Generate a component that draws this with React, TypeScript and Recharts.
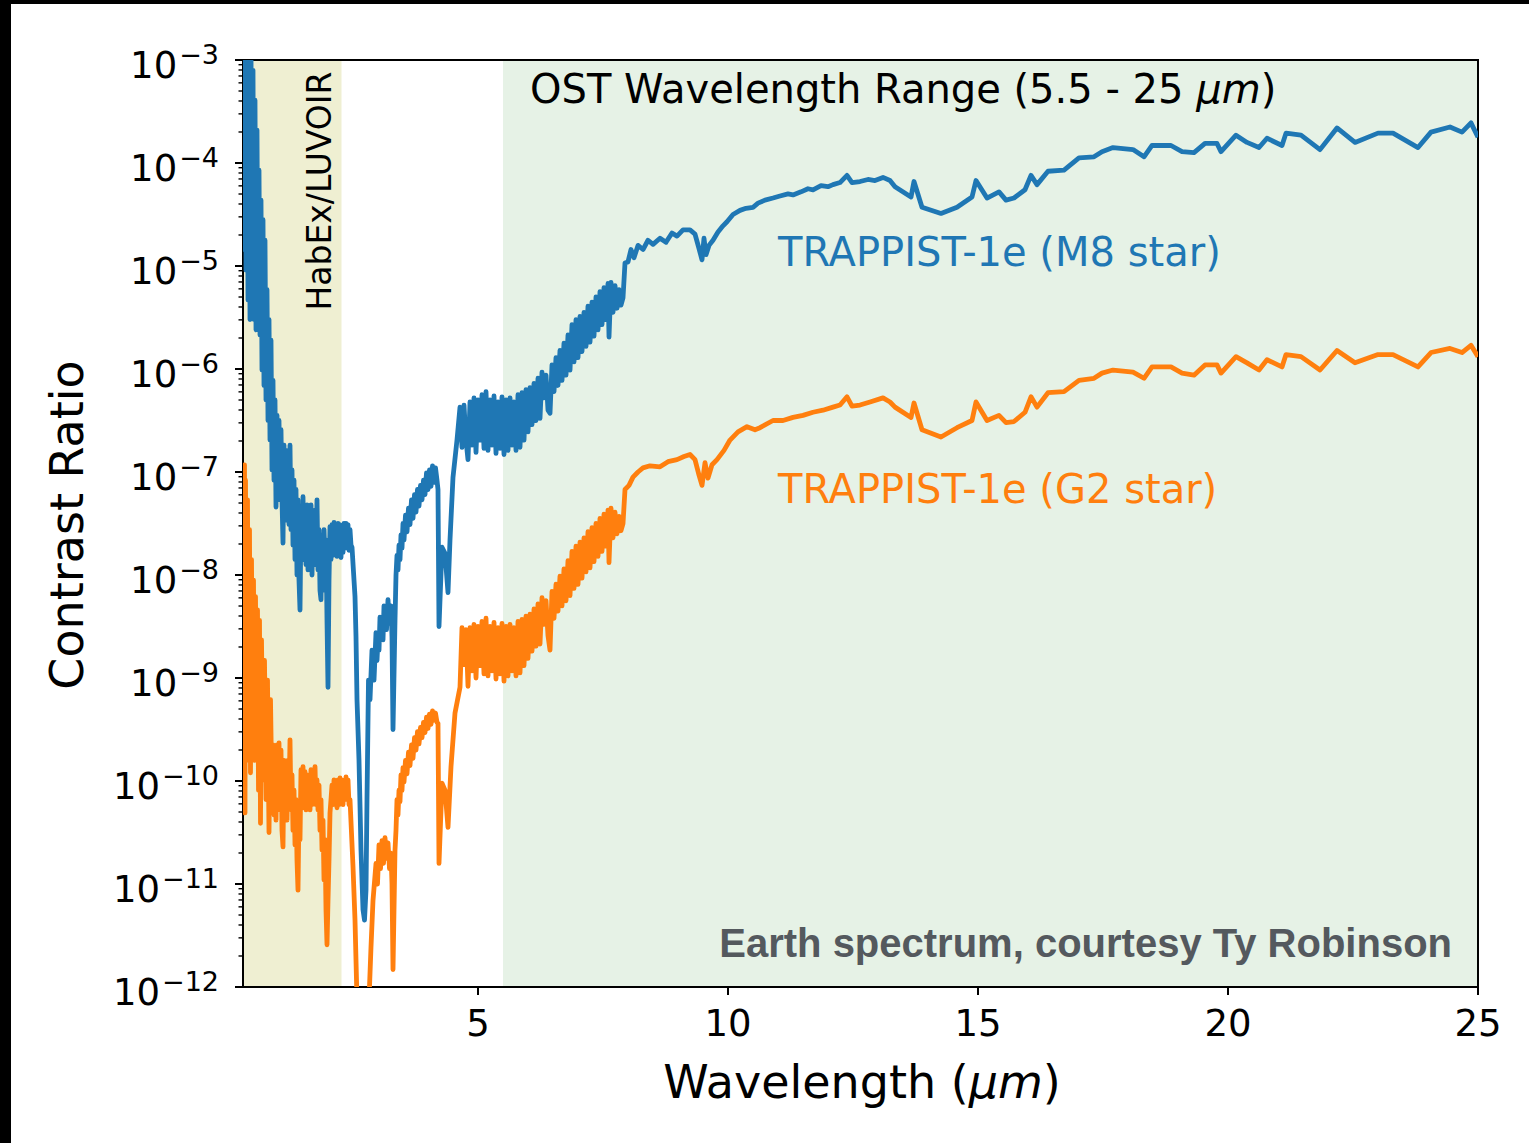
import { LineChart, Line, XAxis, YAxis, ReferenceArea } from 'recharts'

// wavelength in micron, contrast stored as log10
const m8Wavelength = [
  0.30, 0.32, 0.34, 0.36, 0.38, 0.40, 0.42, 0.44, 0.46, 0.48, 0.50, 0.52, 0.54, 0.56, 0.58, 0.60,
  0.62, 0.64, 0.66, 0.68, 0.70, 0.72, 0.74, 0.76, 0.78, 0.80, 0.82, 0.84, 0.86, 0.88,
  0.90, 0.92, 0.94, 0.96, 0.98, 1.00, 1.02, 1.04, 1.06, 1.08, 1.10, 1.12, 1.14, 1.16, 1.18, 1.20,
  1.22, 1.24, 1.26, 1.28, 1.30, 1.32, 1.34, 1.36, 1.38, 1.40, 1.42, 1.44, 1.46, 1.48, 1.50, 1.52,
  1.54, 1.56, 1.58, 1.60, 1.62, 1.64, 1.66, 1.68, 1.70, 1.72, 1.74, 1.76, 1.78, 1.80, 1.82, 1.84,
  1.86, 1.88, 1.90, 1.92, 1.94, 1.96, 1.98, 2.00, 2.02, 2.04, 2.06, 2.08, 2.10, 2.12, 2.14, 2.16,
  2.18, 2.20, 2.22, 2.24, 2.26, 2.28, 2.30, 2.32, 2.34, 2.36, 2.38, 2.40, 2.42, 2.44, 2.46, 2.48,
  2.54, 2.56, 2.58, 2.62, 2.66, 2.70, 2.73, 2.76, 2.78, 2.81, 2.84, 2.88, 2.92,
  2.96, 2.98, 3.00, 3.02, 3.04, 3.06, 3.08, 3.10, 3.12, 3.14, 3.17, 3.20, 3.23, 3.26, 3.28, 3.30,
  3.34, 3.36, 3.38, 3.40, 3.42, 3.44, 3.46, 3.48, 3.50, 3.52, 3.55, 3.58, 3.61, 3.64, 3.67, 3.70,
  3.73, 3.76, 3.79, 3.82, 3.85, 3.88, 3.91, 3.94, 3.97, 4.00, 4.03, 4.06, 4.09, 4.12, 4.15, 4.18,
  4.20, 4.22, 4.28, 4.34, 4.40, 4.44, 4.50, 4.58,
  4.64, 4.68, 4.72, 4.76, 4.80, 4.84, 4.88, 4.92, 4.96, 5.00, 5.04, 5.08, 5.12, 5.16, 5.20, 5.24,
  5.28, 5.32, 5.36, 5.40, 5.44, 5.48, 5.52, 5.56, 5.60, 5.64, 5.68, 5.72, 5.76, 5.80, 5.84, 5.88,
  5.92, 5.96, 6.00, 6.04, 6.08, 6.12, 6.16, 6.20, 6.24, 6.28, 6.32, 6.36, 6.40, 6.44, 6.48, 6.52,
  6.56, 6.60, 6.64, 6.68, 6.72, 6.76, 6.80, 6.84, 6.88, 6.92, 6.96, 7.00, 7.04, 7.08, 7.12, 7.16,
  7.20, 7.24, 7.28, 7.32, 7.36, 7.40, 7.44, 7.48, 7.52, 7.56, 7.60, 7.62, 7.66, 7.70, 7.74, 7.78,
  7.82, 7.86, 7.90, 7.94,
  8.00, 8.06, 8.12, 8.20, 8.30, 8.40, 8.50, 8.64, 8.76,
  8.88, 8.98, 9.10, 9.24, 9.34, 9.42, 9.48, 9.52, 9.56, 9.62, 9.70, 9.80, 9.90, 9.98, 10.10, 10.24,
  10.36, 10.50, 10.60, 10.74, 10.90, 11.04, 11.20, 11.30, 11.46, 11.60, 11.70, 11.86, 12.00, 12.10, 12.24, 12.38,
  12.48, 12.64, 12.80, 12.94, 13.10, 13.24, 13.34, 13.66, 13.72, 13.88, 14.26, 14.58, 14.88, 14.96, 15.18, 15.42,
  15.56, 15.72, 15.94, 16.06, 16.18, 16.40, 16.72, 17.02, 17.32, 17.48, 17.70, 18.10, 18.32, 18.48, 18.86, 19.08,
  19.32, 19.54, 19.78, 19.86, 20.16, 20.38, 20.62, 20.78, 21.08, 21.16, 21.46, 21.84, 22.18, 22.54, 23.00, 23.30,
  23.80, 24.06, 24.44, 24.68, 24.86, 25.00,
]
const m8LogContrast = [
  -2.71, -4.84, -2.81, -5.04, -2.71, -5.33, -2.81, -5.52, -2.90, -5.43, -3.10, -5.52, -3.39, -5.62, -3.68, -5.52,
  -4.07, -5.67, -4.36, -6.01, -4.55, -6.16, -4.75, -6.30, -5.23, -6.50, -5.52, -6.69, -5.72, -6.98,
  -6.11, -7.08, -6.30, -7.34, -6.45, -7.27, -6.50, -7.22, -6.59, -7.27, -7.69, -6.74, -7.37, -6.79, -7.47, -6.93,
  -7.51, -6.74, -7.56, -6.98, -7.71, -7.08, -7.85, -7.17, -8.00, -7.27, -8.05, -8.34, -7.47, -7.85, -7.24, -7.85,
  -7.37, -7.90, -7.32, -7.95, -7.42, -7.85, -7.32, -8.00, -7.47, -7.90, -7.37, -7.85, -7.27, -7.95, -7.56, -8.15,
  -8.24, -7.61, -8.15, -7.56, -7.85, -7.66, -8.44, -9.09, -8.05, -7.53, -7.85, -7.51, -7.81, -7.49, -7.76, -7.51,
  -7.82, -7.50, -7.76, -7.51, -7.83, -7.52, -7.78, -7.50, -7.74, -7.50, -7.71, -7.51, -7.76, -7.56, -7.71, -7.73,
  -8.21, -8.60, -9.21, -9.80, -10.67, -11.25, -11.35, -11.06, -10.18, -9.02, -9.21, -8.73, -9.02,
  -8.56, -8.83, -8.63, -8.73, -8.41, -8.63, -8.49, -8.63, -8.30, -8.34, -8.53, -8.24, -8.47, -8.30, -8.60, -9.50,
  -8.44, -8.00, -7.81, -7.95, -7.71, -7.85, -7.61, -7.74, -7.50, -7.66, -7.42, -7.58, -7.35, -7.51, -7.27, -7.45,
  -7.22, -7.39, -7.17, -7.33, -7.13, -7.27, -7.08, -7.22, -7.01, -7.17, -6.98, -7.14, -6.94, -7.10, -6.96, -7.08,
  -7.17, -8.50, -7.73, -7.79, -8.17, -7.66, -7.05, -6.69,
  -6.37, -6.76, -6.35, -6.69, -6.88, -6.32, -6.74, -6.28, -6.81, -6.30, -6.69, -6.25, -6.77, -6.22, -6.79, -6.30,
  -6.74, -6.26, -6.82, -6.32, -6.77, -6.27, -6.83, -6.30, -6.79, -6.28, -6.74, -6.32, -6.79, -6.25, -6.76, -6.23,
  -6.69, -6.20, -6.61, -6.18, -6.54, -6.14, -6.50, -6.09, -6.48, -6.03, -6.28, -6.06, -6.40, -6.43, -5.96, -6.22,
  -5.89, -6.16, -5.82, -6.11, -5.75, -6.06, -5.67, -6.01, -5.57, -5.93, -5.52, -5.89, -5.49, -5.83, -5.45, -5.78,
  -5.39, -5.74, -5.35, -5.68, -5.30, -5.62, -5.25, -5.57, -5.21, -5.52, -5.17, -5.69, -5.16, -5.45, -5.19, -5.41,
  -5.23, -5.38, -5.31, -4.97,
  -4.96, -4.84, -4.92, -4.80, -4.84, -4.75, -4.79, -4.73, -4.77,
  -4.68, -4.71, -4.65, -4.65, -4.69, -4.83, -4.94, -4.73, -4.89, -4.80, -4.75, -4.67, -4.61, -4.57, -4.50, -4.46,
  -4.44, -4.43, -4.39, -4.36, -4.34, -4.32, -4.30, -4.31, -4.28, -4.25, -4.26, -4.22, -4.23, -4.21, -4.19, -4.12,
  -4.19, -4.18, -4.16, -4.17, -4.14, -4.17, -4.23, -4.33, -4.18, -4.43, -4.49, -4.43, -4.33, -4.17, -4.34, -4.28,
  -4.36, -4.34, -4.26, -4.12, -4.21, -4.08, -4.07, -3.95, -3.94, -3.89, -3.85, -3.87, -3.94, -3.83, -3.83, -3.89,
  -3.90, -3.81, -3.81, -3.89, -3.73, -3.80, -3.85, -3.76, -3.83, -3.71, -3.73, -3.87, -3.66, -3.80, -3.71, -3.71,
  -3.85, -3.70, -3.65, -3.70, -3.61, -3.75,
]

const g2Wavelength = [
  0.30, 0.32, 0.33, 0.34, 0.35, 0.37, 0.39, 0.41, 0.43, 0.45, 0.47, 0.49, 0.51, 0.53, 0.55, 0.57,
  0.59, 0.61, 0.63, 0.65, 0.67, 0.70, 0.73, 0.76, 0.79, 0.82, 0.85,
  0.88, 0.90, 0.92, 0.94, 0.96, 0.98, 1.00, 1.02, 1.04, 1.06, 1.08, 1.10, 1.12, 1.14, 1.16, 1.18,
  1.20, 1.22, 1.24, 1.26, 1.28, 1.30, 1.32, 1.34, 1.36, 1.38, 1.40, 1.42, 1.44, 1.46, 1.48, 1.50,
  1.52, 1.54, 1.56, 1.58, 1.60, 1.62, 1.64, 1.66, 1.68, 1.70, 1.72, 1.74, 1.76, 1.78, 1.80, 1.82,
  1.84, 1.86, 1.88, 1.90, 1.92, 1.94, 1.96, 1.98, 2.00, 2.02, 2.04, 2.06, 2.08, 2.10, 2.12, 2.14,
  2.16, 2.18, 2.20, 2.22, 2.24, 2.26, 2.28, 2.30, 2.32, 2.34, 2.36, 2.38, 2.40, 2.42, 2.44,
  2.50, 2.54, 2.58, 2.64, 2.70, 2.76, 2.82, 2.86, 2.90,
  2.96, 2.99, 3.02, 3.05, 3.08, 3.11, 3.14, 3.17, 3.20, 3.23, 3.26, 3.28, 3.30,
  3.34, 3.36, 3.38, 3.40, 3.42, 3.44, 3.46, 3.48, 3.50, 3.52, 3.55, 3.58, 3.61, 3.64, 3.67, 3.70,
  3.73, 3.76, 3.79, 3.82, 3.85, 3.88, 3.91, 3.94, 3.97, 4.00, 4.03, 4.06, 4.09, 4.12, 4.15, 4.18,
  4.20, 4.22, 4.28, 4.34, 4.40, 4.46, 4.54,
  4.64, 4.68, 4.72, 4.76, 4.80, 4.84, 4.88, 4.92, 4.96, 5.00, 5.04, 5.08, 5.12, 5.16, 5.20, 5.24,
  5.28, 5.32, 5.36, 5.40, 5.44, 5.48, 5.52, 5.56, 5.60, 5.64, 5.68, 5.72, 5.76, 5.80, 5.84, 5.88,
  5.92, 5.96, 6.00, 6.04, 6.08, 6.12, 6.16, 6.20, 6.24, 6.28, 6.32, 6.36, 6.40, 6.44, 6.48, 6.52,
  6.56, 6.60, 6.64, 6.68, 6.72, 6.76, 6.80, 6.84, 6.88, 6.92, 6.96, 7.00, 7.04, 7.08, 7.12, 7.16,
  7.20, 7.24, 7.28, 7.32, 7.36, 7.40, 7.44, 7.48, 7.52, 7.56, 7.60, 7.62, 7.66, 7.70, 7.74, 7.78,
  7.82, 7.86, 7.90, 7.94,
  8.02, 8.10, 8.20, 8.30, 8.44, 8.64,
  8.80, 8.98, 9.12, 9.24, 9.34, 9.42, 9.48, 9.54, 9.60, 9.68, 9.78, 9.92, 10.04, 10.20, 10.38, 10.54,
  10.64, 10.90, 11.10, 11.30, 11.50, 11.70, 11.90, 12.10, 12.24, 12.38, 12.48, 12.64, 12.84, 13.10, 13.24, 13.34,
  13.66, 13.72, 13.88, 14.26, 14.58, 14.88, 14.96, 15.18, 15.42, 15.56, 15.72, 15.94, 16.06, 16.18, 16.40, 16.72,
  17.02, 17.32, 17.48, 17.70, 18.10, 18.32, 18.48, 18.86, 19.08, 19.32, 19.54, 19.78, 19.86, 20.16, 20.38, 20.62,
  20.78, 21.08, 21.16, 21.46, 21.84, 22.18, 22.54, 23.00, 23.30, 23.80, 24.06, 24.44, 24.68, 24.86, 25.00,
]
const g2LogContrast = [
  -6.98, -8.24, -6.93, -10.31, -7.08, -9.21, -7.27, -9.80, -7.56, -9.92, -7.85, -9.41, -8.05, -9.80, -8.21, -9.41,
  -8.34, -10.09, -8.44, -10.41, -8.63, -9.99, -8.83, -10.18, -9.02, -10.50, -9.21,
  -10.18, -9.65, -10.33, -9.70, -10.38, -9.65, -10.18, -9.63, -10.28, -9.70, -10.48, -10.64, -9.80, -10.28, -9.84, -10.38,
  -9.80, -10.18, -9.60, -10.28, -9.94, -10.48, -10.09, -10.62, -10.18, -10.77, -11.06, -10.28, -10.57, -9.89, -10.23, -9.86,
  -10.26, -9.91, -10.28, -9.94, -10.25, -9.97, -10.28, -9.89, -10.23, -9.94, -10.18, -9.86, -10.23, -9.99, -10.28, -10.04,
  -10.48, -10.18, -10.67, -10.38, -10.96, -10.57, -11.25, -11.59, -11.16, -10.77, -10.31, -10.18, -10.04, -10.23, -9.99, -10.20,
  -10.01, -10.26, -9.99, -10.23, -9.97, -10.18, -9.99, -10.23, -10.01, -10.18, -9.96, -10.17, -9.99, -10.23, -10.18,
  -10.83, -11.35, -12.13, -12.22, -12.13, -12.22, -12.13, -11.61, -11.16,
  -10.80, -11.00, -10.62, -10.85, -10.58, -10.80, -10.55, -10.75, -10.60, -10.85, -10.70, -11.00, -11.83,
  -10.67, -10.48, -10.18, -10.33, -10.09, -10.20, -9.94, -10.09, -9.87, -10.01, -9.80, -9.93, -9.72, -9.85, -9.65, -9.78,
  -9.58, -9.70, -9.52, -9.64, -9.48, -9.58, -9.43, -9.53, -9.38, -9.49, -9.35, -9.45, -9.32, -9.41, -9.34, -9.43,
  -9.44, -10.80, -10.02, -10.09, -10.45, -9.86, -9.34,
  -9.09, -8.51, -8.87, -8.53, -9.08, -8.51, -8.93, -8.48, -9.00, -8.50, -8.88, -8.45, -8.96, -8.42, -8.98, -8.50,
  -8.93, -8.46, -9.01, -8.51, -8.96, -8.47, -9.03, -8.50, -8.98, -8.48, -8.93, -8.51, -8.98, -8.45, -8.95, -8.43,
  -8.88, -8.40, -8.81, -8.38, -8.74, -8.33, -8.69, -8.28, -8.67, -8.22, -8.48, -8.25, -8.59, -8.73, -8.16, -8.42,
  -8.09, -8.35, -8.01, -8.30, -7.94, -8.25, -7.86, -8.20, -7.77, -8.13, -7.72, -8.09, -7.68, -8.03, -7.64, -7.97,
  -7.58, -7.93, -7.54, -7.87, -7.50, -7.82, -7.45, -7.77, -7.41, -7.72, -7.37, -7.88, -7.35, -7.64, -7.39, -7.60,
  -7.43, -7.57, -7.50, -7.17,
  -7.13, -7.05, -7.00, -6.96, -6.94, -6.95,
  -6.90, -6.88, -6.85, -6.83, -6.88, -7.03, -7.13, -6.91, -7.06, -6.93, -6.88, -6.79, -6.69, -6.61, -6.56, -6.59,
  -6.57, -6.50, -6.50, -6.47, -6.45, -6.42, -6.40, -6.37, -6.35, -6.27, -6.36, -6.35, -6.32, -6.28, -6.32, -6.37,
  -6.47, -6.33, -6.59, -6.66, -6.57, -6.50, -6.32, -6.50, -6.45, -6.52, -6.51, -6.42, -6.27, -6.37, -6.23, -6.22,
  -6.11, -6.09, -6.04, -6.01, -6.03, -6.09, -5.98, -5.98, -6.04, -6.06, -5.96, -5.96, -6.04, -5.88, -5.94, -6.01,
  -5.91, -5.98, -5.86, -5.88, -6.01, -5.82, -5.94, -5.86, -5.86, -5.98, -5.84, -5.80, -5.84, -5.77, -5.88,
]

const xTicks = [5, 10, 15, 20, 25]
const decades = [-12, -11, -10, -9, -8, -7, -6, -5, -4, -3]
const minorSteps = [2, 3, 4, 5, 6, 7, 8, 9]
const habexBand = [0.3, 2.27]
const ostBand = [5.5, 25]

const toRows = (xs: number[], logs: number[]) => xs.map((x, i) => ({ x, y: Math.pow(10, logs[i]) }))
const m8Data = toRows(m8Wavelength, m8LogContrast)
const g2Data = toRows(g2Wavelength, g2LogContrast)

const yTicks: number[] = []
decades.forEach((d) => {
  yTicks.push(Math.pow(10, d))
  if (d < -3) minorSteps.forEach((m) => yTicks.push(m * Math.pow(10, d)))
})

const FONT = '"DejaVu Sans", sans-serif'

const YTick = (props: any) => {
  const { x, y, payload } = props
  const e = Math.log10(payload.value)
  const major = Math.abs(e - Math.round(e)) < 1e-6
  return (
    <g>
      <line x1={x} x2={x - (major ? 8 : 4.5)} y1={y} y2={y} stroke="#000" strokeWidth={major ? 2 : 1.4} />
      {major && (
        <text x={x - 24} y={y + 18} textAnchor="end" fontSize={37} fill="#000" fontFamily={FONT}>
          10<tspan dx={2} dy={-14} fontSize={27}>{'\u2212' + -Math.round(e)}</tspan>
        </text>
      )}
    </g>
  )
}

const XTick = (props: any) => {
  const { x, y, payload } = props
  return (
    <g>
      <line x1={x} x2={x} y1={y} y2={y + 8} stroke="#000" strokeWidth={2} />
      <text x={x} y={y + 49} textAnchor="middle" fontSize={37} fill="#000" fontFamily={FONT}>
        {payload.value}
      </text>
    </g>
  )
}

const App = () => {
  return (
    <div style={{ position: 'absolute', left: 0, top: 0, width: 1529, height: 1143, background: '#000' }}>
      <div style={{ position: 'absolute', left: 11, top: 4, width: 1518, height: 1139, background: '#fff' }} />
      <div style={{ position: 'absolute', left: 0, top: 0 }}>
        <LineChart width={1529} height={1143} margin={{ top: 60, right: 51, bottom: 96, left: 183 }}>
          <XAxis
            dataKey="x"
            type="number"
            domain={[0.3, 25]}
            allowDataOverflow
            ticks={xTicks}
            interval={0}
            height={60}
            axisLine={false}
            tickLine={false}
            tickSize={0}
            tickMargin={0}
            tick={<XTick />}
          />
          <YAxis
            type="number"
            scale="log"
            domain={[1e-12, 1e-3]}
            allowDataOverflow
            ticks={yTicks}
            interval={0}
            width={60}
            axisLine={false}
            tickLine={false}
            tickSize={0}
            tickMargin={0}
            tick={<YTick />}
          />
          <ReferenceArea x1={habexBand[0]} x2={habexBand[1]} fill="#efefd2" fillOpacity={1} stroke="none" />
          <ReferenceArea x1={ostBand[0]} x2={ostBand[1]} fill="#e6f2e6" fillOpacity={1} stroke="none" />
          <Line data={m8Data} dataKey="y" stroke="#1f77b4" strokeWidth={4.8} dot={false} activeDot={false} isAnimationActive={false} strokeLinejoin="round" />
          <Line data={g2Data} dataKey="y" stroke="#ff7f0e" strokeWidth={4.8} dot={false} activeDot={false} isAnimationActive={false} strokeLinejoin="round" />
          <ReferenceArea x1={0.3} x2={25} y1={1e-12} y2={1e-3} fill="none" stroke="#000" strokeWidth={2} />
        </LineChart>
      </div>
      <svg width={1529} height={1143} style={{ position: 'absolute', left: 0, top: 0, pointerEvents: 'none' }} fontFamily={FONT}>
        <text x={530} y={103} fontSize={40} fill="#000">
          OST Wavelength Range (5.5 - 25 <tspan fontStyle="italic">μm</tspan>)
        </text>
        <text transform="translate(331,191) rotate(-90)" textAnchor="middle" fontSize={33} fill="#000">
          HabEx/LUVOIR
        </text>
        <text x={778} y={266} fontSize={40} fill="#1f77b4">TRAPPIST-1e (M8 star)</text>
        <text x={778} y={503} fontSize={40} fill="#ff7f0e">TRAPPIST-1e (G2 star)</text>
        <text x={1452} y={957} textAnchor="end" fontSize={40} fontWeight="bold" fill="#54595e" fontFamily='"Liberation Sans", Arial, sans-serif'>
          Earth spectrum, courtesy Ty Robinson
        </text>
        <text transform="translate(83,525) rotate(-90)" textAnchor="middle" fontSize={46} fill="#000">
          Contrast Ratio
        </text>
        <text x={862} y={1098} textAnchor="middle" fontSize={46} fill="#000">
          Wavelength (<tspan fontStyle="italic">μm</tspan>)
        </text>
      </svg>
    </div>
  )
}

export default App
